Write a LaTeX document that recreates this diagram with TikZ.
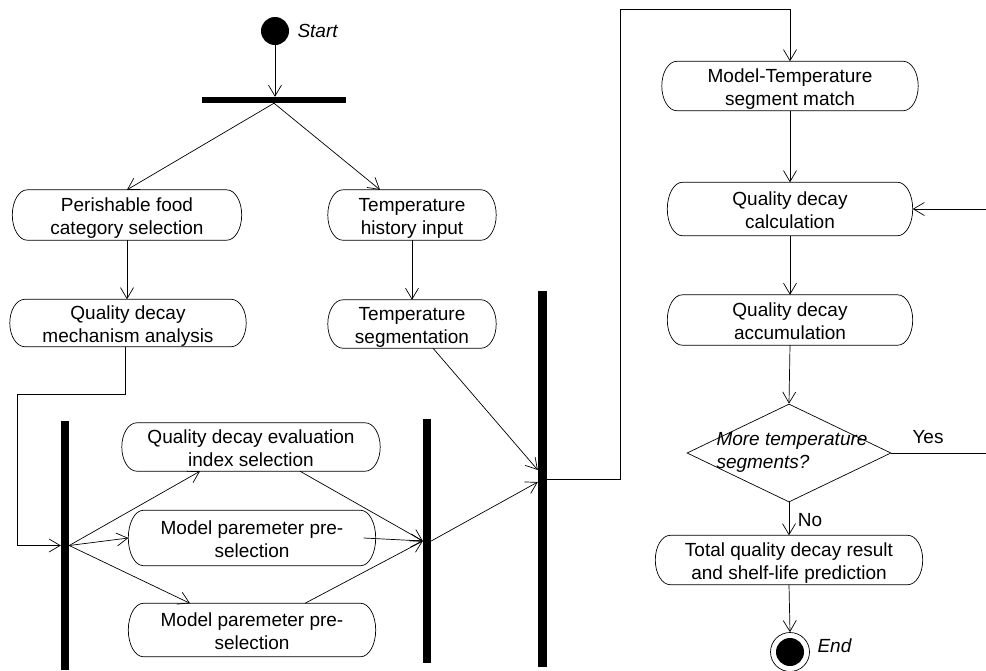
\documentclass[tikz,border=0pt]{standalone}
\usepackage{fontspec}
\setmainfont{Liberation Sans}
\usetikzlibrary{arrows.meta,shapes.geometric,calc}
% outline of an activity: straight top and bottom, half-elliptic ends
\newcommand\pillframe[1]{%
  \draw[line width=0.7pt]
    let \p1=(#1.north west), \p2=(#1.south east), \n1={(\y1-\y2)/2} in
    (\x1+15pt,\y1) -- (\x2-15pt,\y1)
    arc[start angle=90, end angle=-90, x radius=15pt, y radius=\n1]
    -- (\x1+15pt,\y2)
    arc[start angle=270, end angle=90, x radius=15pt, y radius=\n1]
    -- cycle;}
\begin{document}
\begin{tikzpicture}[x=1pt,y=-1pt,
  every node/.style={font=\fontsize{19}{23}\selectfont},
  act/.style={align=center, inner sep=0pt, text height=38pt, text depth=0pt},
  syncbar/.style={fill=black, draw=none, inner sep=0pt},
  arr/.style={line width=0.7pt, -{Straight Barb[length=11pt,width=13pt,line width=0.7pt]}},
  itl/.style={font=\fontsize{19}{23}\selectfont\itshape}
]
\clip (0,0) rectangle (986,670);
\fill[white] (0,0) rectangle (986,670);

% initial and final states
\node[circle, fill=black, minimum size=28pt, inner sep=0pt] (start) at (275,31) {};
\node[itl, anchor=west] (startlbl) at (294,31) {Start};
\node[circle, draw, line width=0.7pt, minimum size=39pt, inner sep=0pt,
      path picture={\fill (path picture bounding box.center) circle (14pt);}] (end) at (790,652) {};
\node[itl, anchor=west] (endlbl) at (814,646) {End};

% synchronisation bars
\node[syncbar, minimum width=144pt, minimum height=6pt] (fork) at (274,100) {};
\node[syncbar, minimum width=8pt, minimum height=249pt] (b1) at (65,545.5) {};
\node[syncbar, minimum width=8pt, minimum height=244pt] (b2) at (427,541) {};
\node[syncbar, minimum width=9pt, minimum height=376pt] (b3) at (542.5,479) {};

% activities
\node[act, minimum width=229pt, minimum height=50pt] (perish) at (127,215) {Perishable food\\category selection};
\node[act, minimum width=236pt, minimum height=47pt] (mech) at (128,323) {Quality decay\\mechanism analysis};
\node[act, minimum width=168pt, minimum height=50pt] (hist) at (412,215) {Temperature\\history input};
\node[act, minimum width=168pt, minimum height=48pt] (seg) at (412,324) {Temperature\\segmentation};
\node[act, minimum width=258pt, minimum height=48pt] (eval) at (251,447) {Quality decay evaluation\\index selection};
\node[act, minimum width=247pt, minimum height=55pt] (mid) at (252,538) {Model paremeter pre-\\selection};
\node[act, minimum width=247pt, minimum height=53pt] (bot) at (252,630) {Model paremeter pre-\\selection};
\node[act, minimum width=256pt, minimum height=49pt] (mt) at (790,86) {Model-Temperature\\segment match};
\node[act, minimum width=245pt, minimum height=53pt] (calc) at (790,209) {Quality decay\\calculation};
\node[act, minimum width=245pt, minimum height=50pt] (accum) at (790,320) {Quality decay\\accumulation};
\node[act, minimum width=267pt, minimum height=49pt] (total) at (789,560) {Total quality decay result\\and shelf-life prediction};
\foreach \a in {perish,mech,hist,seg,eval,mid,bot,mt,calc,accum,total}{\pillframe{\a}}

% decision
\node[diamond, draw, line width=0.7pt, minimum width=204pt, minimum height=98pt, inner sep=0pt] (dia) at (789,453) {};
\node[itl, align=left] (ask) at (792,452) {More temperature\\segments?};
\node (yes) at (928,437) {Yes};
\node (no) at (810,520) {No};

% flows
\draw[arr] (start.south) -- (start.south |- fork.north);
\draw[arr] (fork.south) -- (perish.north);
\draw[arr] (fork.south) -- ([xshift=-32pt]hist.north);
\draw[arr] (perish.south) -- (perish.south |- mech.north);
\draw[arr] (hist.south) -- (seg.north);
\draw[arr] ([xshift=-3pt]mech.south) -- ++(0,48) -| ([xshift=-43pt]b1.west) -- (b1.west);
\draw[arr] (b1.east) -- ([xshift=-51pt]eval.south);
\draw[arr] (b1.east) -- (mid.west);
\draw[arr] (b1.east) -- ([xshift=-62pt]bot.north);
\draw[arr] ([xshift=49pt]eval.south) -- (b2.west);
\draw[arr] ([xshift=-12pt]mid.east) -- (b2.west);
\draw[arr] ([xshift=53pt]bot.north) -- (b2.west);
\draw[arr] (b2.east) -- ([yshift=-3pt]b3.west);
\draw[arr] ([xshift=21pt]seg.south) -- ([yshift=9pt]b3.west);
\draw[arr] (b3.east) -- ++(73,0) |- ([yshift=52pt]mt.north) -- (mt.north);
\draw[arr] (mt.south) -- (calc.north);
\draw[arr] (calc.south) -- (accum.north);
\draw[arr] (accum.south) -- (dia.north);
\draw[arr] (dia.south) -- (total.north);
\draw[arr] (total.south) -- (end.north);
\draw[arr] (dia.east) -- ++(104,0) |- (calc.east);
\end{tikzpicture}
\end{document}
